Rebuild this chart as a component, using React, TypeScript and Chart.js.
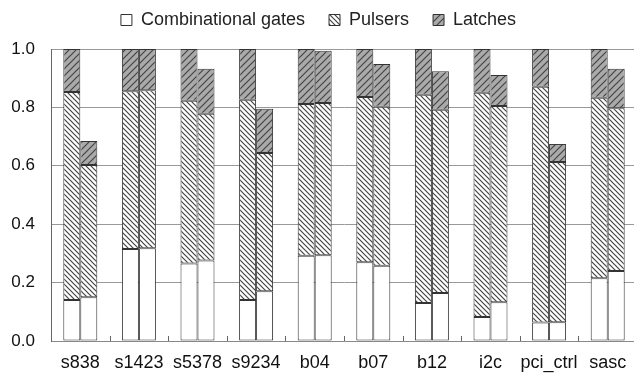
import React, { useEffect, useRef } from "react";
import { Chart, registerables } from "chart.js";

Chart.register(...registerables);

const categories = ["s838", "s1423", "s5378", "s9234", "b04", "b07", "b12", "i2c", "pci_ctrl", "sasc"];
const seriesNames = ["Combinational gates", "Pulsers", "Latches"];

// first bar of each pair
const combA = [0.14, 0.315, 0.265, 0.14, 0.292, 0.27, 0.13, 0.082, 0.063, 0.215];
const pulsA = [0.713, 0.54, 0.558, 0.686, 0.52, 0.566, 0.713, 0.768, 0.808, 0.618];
const latchA = [0.147, 0.145, 0.177, 0.174, 0.188, 0.164, 0.157, 0.15, 0.129, 0.167];

// second bar of each pair
const combB = [0.15, 0.318, 0.276, 0.17, 0.294, 0.258, 0.164, 0.133, 0.064, 0.24];
const pulsB = [0.453, 0.541, 0.502, 0.474, 0.521, 0.544, 0.628, 0.672, 0.549, 0.557];
const latchB = [0.082, 0.141, 0.154, 0.151, 0.179, 0.147, 0.132, 0.106, 0.062, 0.135];

const yTicks = [0, 0.2, 0.4, 0.6, 0.8, 1.0];

function makePattern(size: number, bg: string, fg: string, back: boolean) {
  const c = document.createElement("canvas");
  c.width = size;
  c.height = size;
  const g = c.getContext("2d")!;
  g.fillStyle = bg;
  g.fillRect(0, 0, size, size);
  g.strokeStyle = fg;
  g.lineWidth = 1.2;
  g.beginPath();
  if (back) {
    g.moveTo(0, 0); g.lineTo(size, size);
    g.moveTo(-1, size - 1); g.lineTo(1, size + 1);
    g.moveTo(size - 1, -1); g.lineTo(size + 1, 1);
  } else {
    g.moveTo(0, size); g.lineTo(size, 0);
    g.moveTo(-1, 1); g.lineTo(1, -1);
    g.moveTo(size - 1, size + 1); g.lineTo(size + 1, size - 1);
  }
  g.stroke();
  return g.createPattern(c, "repeat")!;
}

const FONT = "'Liberation Sans', Arial, Helvetica, sans-serif";

export default function App() {
  const ref = useRef<HTMLCanvasElement>(null);
  useEffect(() => {
    if (!ref.current) return;
    const pulsPat = makePattern(5, "#ffffff", "#444444", true);
    const latchPat = makePattern(7, "#aaaaaa", "#444444", false);
    const fills = ["#ffffff", pulsPat, latchPat];
    const common = { borderColor: "#333333", borderWidth: 1, borderSkipped: false as const };
    const seriesA = [combA, pulsA, latchA];
    const seriesB = [combB, pulsB, latchB];
    const datasets: any[] = [];
    seriesA.forEach((d, i) => datasets.push({ label: seriesNames[i], data: d, backgroundColor: fills[i], stack: "a", ...common }));
    seriesB.forEach((d, i) => datasets.push({ label: seriesNames[i] + " (2)", data: d, backgroundColor: fills[i], stack: "b", ...common }));

    const legendFix = {
      id: "legendFix",
      afterInit(chart: any) {
        const lg = chart.legend;
        if (lg && !lg.__fixed) {
          const orig = lg.fit.bind(lg);
          lg.fit = function () {
            orig();
            this.height = 62;
          };
          lg.__fixed = true;
        }
      },
    };

    // small inward tick marks between category groups, placed through the x scale
    const groupTicks = {
      id: "groupTicks",
      afterDatasetsDraw(chart: any) {
        const xs = chart.scales.x;
        const bottom = chart.chartArea.bottom;
        const ctx = chart.ctx;
        ctx.save();
        ctx.strokeStyle = "#666666";
        ctx.lineWidth = 1;
        ctx.beginPath();
        for (let i = 0; i < categories.length - 1; i++) {
          const x = Math.round(xs.getPixelForValue(i + 0.5)) + 0.5;
          ctx.moveTo(x, bottom);
          ctx.lineTo(x, bottom - 5);
        }
        ctx.stroke();
        ctx.restore();
      },
    };

    const chart = new Chart(ref.current, {
      type: "bar",
      data: { labels: categories, datasets },
      plugins: [legendFix, groupTicks],
      options: {
        animation: false,
        responsive: false,
        layout: { padding: { top: -13, right: 5, left: 0, bottom: 0 } },
        datasets: { bar: { categoryPercentage: 0.58, barPercentage: 1.0 } },
        plugins: {
          tooltip: { enabled: false },
          legend: {
            position: "top",
            labels: {
              boxWidth: 11,
              boxHeight: 11,
              padding: 24,
              color: "#222222",
              font: { family: FONT, size: 18 },
              filter: (item: any) => item.datasetIndex < 3,
            },
          },
        },
        scales: {
          x: {
            stacked: true,
            offset: true,
            grid: {
              display: false,
              drawTicks: false,
            },
            border: { display: true, color: "#888888", width: 1 },
            ticks: { color: "#111111", font: { family: FONT, size: 18 }, padding: 11, maxRotation: 0, autoSkip: false },
            afterFit: (s: any) => { s.height = 32; },
          },
          y: {
            stacked: true,
            min: 0,
            max: 1,
            afterBuildTicks: (s: any) => { s.ticks = yTicks.map((v) => ({ value: v })); },
            grid: { color: "#999999", drawTicks: false, lineWidth: 1 },
            border: { display: true, color: "#666666", width: 1 },
            ticks: {
              color: "#111111",
              font: { family: FONT, size: 17 },
              padding: 16,
              callback: (v: any) => Number(v).toFixed(1),
            },
            afterFit: (s: any) => { s.width = 51; },
          },
        },
      },
    });
    return () => chart.destroy();
  }, []);
  return (
    <div style={{ position: "fixed", left: 0, top: 0, width: 634, height: 373, overflow: "hidden", background: "#fff" }}>
      <canvas ref={ref} width={642} height={373} style={{ display: "block", width: 642, height: 373 }} />
    </div>
  );
}
